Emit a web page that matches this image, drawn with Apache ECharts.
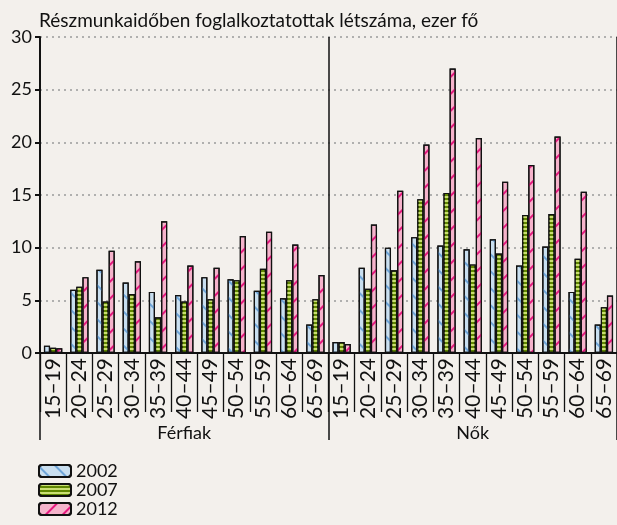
<!DOCTYPE html>
<html>
<head>
<meta charset="utf-8">
<script src="https://cdn.jsdelivr.net/npm/echarts@6/dist/echarts.min.js"></script>
<style>
  html, body { margin: 0; padding: 0; background: #f3f0ec; }
  #chart { width: 617px; height: 525px; }
</style>
</head>
<body>
<div id="chart"></div>
<script>
const ageGroups = ["15–19", "20–24", "25–29", "30–34", "35–39", "40–44", "45–49", "50–54", "55–59", "60–64", "65–69"];
const sexes = ["Férfiak", "Nők"];
const years = ["2002", "2007", "2012"];

// Férfiak, then Nők, in age order
const men2002 = [0.7, 6.0, 7.9, 6.7, 5.8, 5.5, 7.2, 7.0, 5.9, 5.2, 2.7];
const men2007 = [0.5, 6.3, 4.9, 5.6, 3.4, 4.9, 5.1, 6.9, 8.0, 6.9, 5.1];
const men2012 = [0.45, 7.2, 9.7, 8.7, 12.5, 8.3, 8.1, 11.1, 11.5, 10.3, 7.4];
const women2002 = [1.05, 8.1, 10.0, 11.0, 10.2, 9.85, 10.8, 8.3, 10.1, 5.8, 2.7];
const women2007 = [1.05, 6.1, 7.85, 14.6, 15.2, 8.4, 9.45, 13.1, 13.2, 8.95, 4.35];
const women2012 = [0.85, 12.2, 15.4, 19.8, 27.0, 20.4, 16.25, 17.85, 20.55, 15.3, 5.45];

const yTicks = [0, 5, 10, 15, 20, 25, 30];

const font = "Lato, 'Open Sans', sans-serif";
const categories = ageGroups.concat(ageGroups);

const styles = {
  "2002": { color: "#c9dff0", decal: { symbol: "rect", color: "#6fa5d8", dashArrayX: [1, 0], dashArrayY: [2, 10], rotation: Math.PI / 4 } },
  "2007": { color: "#5f8600", decal: { symbol: "rect", color: "#c9df72", dashArrayX: [1, 0], dashArrayY: [1.5, 1.5], rotation: 0 } },
  "2012": { color: "#f5b3cb", decal: { symbol: "rect", color: "#e5197f", dashArrayX: [1, 0], dashArrayY: [2, 10], rotation: -Math.PI / 4 } }
};
const values = {
  "2002": men2002.concat(women2002),
  "2007": men2007.concat(women2007),
  "2012": men2012.concat(women2012)
};

const myChart = echarts.init(document.getElementById("chart"));
myChart.setOption({
  backgroundColor: "#f3f0ec",
  animation: false,
  textStyle: { fontFamily: font, color: "#111" },
  title: {
    text: "Részmunkaidőben foglalkoztatottak létszáma, ezer fő",
    left: 34,
    top: 6,
    textStyle: { fontFamily: font, fontSize: 19, fontWeight: "normal", color: "#111" }
  },
  legend: {
    data: years,
    orient: "vertical",
    left: 38,
    top: 462,
    height: 60,
    padding: 0,
    itemWidth: 32,
    itemHeight: 12,
    itemGap: 1,
    textStyle: { fontFamily: font, fontSize: 18, lineHeight: 18, color: "#111" }
  },
  grid: { left: 40, right: -1, top: 37, bottom: 172, containLabel: false },
  xAxis: [
    {
      type: "category",
      data: categories,
      position: "bottom",
      axisLine: { lineStyle: { color: "#111", width: 2 } },
      axisTick: { show: true, length: 59, interval: 0, lineStyle: { color: "#111", width: 1.3 } },
      axisLabel: { interval: 0, rotate: 90, margin: 5, fontSize: 21, color: "#111", fontFamily: font }
    },
    {
      type: "category",
      data: sexes,
      position: "bottom",
      axisLine: { show: false },
      axisTick: { show: true, length: 87, lineStyle: { color: "#111", width: 1.5 } },
      axisLabel: { margin: 71, fontSize: 18, color: "#111", fontFamily: font },
      splitLine: { show: true, lineStyle: { color: "#111", width: 1.5 } }
    }
  ],
  yAxis: {
    type: "value",
    min: yTicks[0],
    max: yTicks[yTicks.length - 1],
    interval: 5,
    axisLine: { show: true, lineStyle: { color: "#111", width: 2 } },
    axisTick: { show: true, length: 5, lineStyle: { color: "#111", width: 2 } },
    axisLabel: { fontSize: 18, color: "#111", margin: 8, fontFamily: font },
    splitLine: { show: true, lineStyle: { color: "#9a9a9a", type: [2, 4], width: 1.5 } }
  },
  series: years.map(function (y) {
    return {
      name: y,
      type: "bar",
      xAxisIndex: 0,
      data: values[y],
      barGap: "0%",
      barCategoryGap: "30%",
      itemStyle: {
        color: styles[y].color,
        decal: styles[y].decal,
        borderColor: "#111",
        borderWidth: 1.2
      }
    };
  })
});
</script>
</body>
</html>
